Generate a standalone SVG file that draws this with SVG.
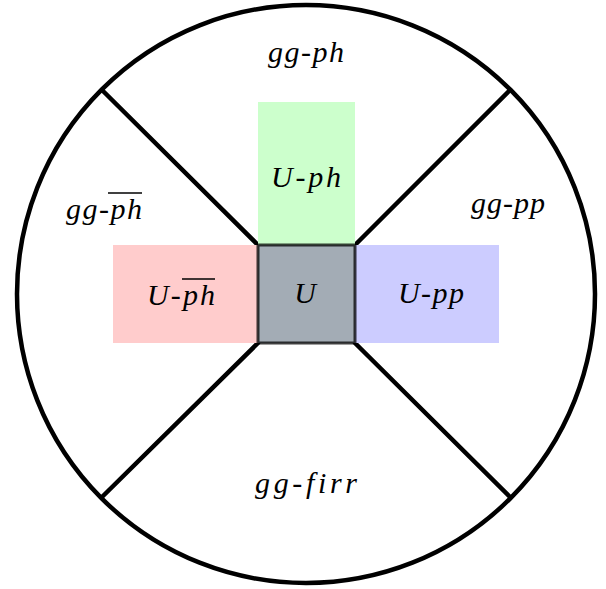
<svg xmlns="http://www.w3.org/2000/svg" width="606" height="589" viewBox="0 0 606 589">
<defs>
<style>
.ln{stroke:#000;stroke-width:4.5;fill:none;stroke-linecap:round}
.ov{stroke:#000;stroke-width:1.3}
</style>
</defs>
<rect width="606" height="589" fill="#fff"/>
<g id="outer">
<circle cx="306" cy="294" r="289" class="ln"/>
</g>
<g id="connectors">
<line x1="258" y1="245" x2="102" y2="90" class="ln"/>
<line x1="355" y1="245" x2="510" y2="90" class="ln"/>
<line x1="258" y1="343" x2="102" y2="497" class="ln"/>
<line x1="355" y1="343" x2="510" y2="497" class="ln"/>
</g>
<g font-family="Liberation Serif, serif" font-style="italic" font-size="30" text-anchor="middle" fill="#000" style="font-variant-ligatures:none">
<g id="U-ph">
<rect x="258" y="102" width="97" height="143" fill="#ccffcc"/>
<text x="306" y="187" textLength="70" lengthAdjust="spacing">U-ph</text>
</g>
<g id="U-phbar">
<rect x="113" y="245" width="145" height="98" fill="#ffcccc"/>
<text x="181" y="305" textLength="68" lengthAdjust="spacing">U-ph</text>
<line class="ov" x1="182" y1="279" x2="215" y2="279"/>
</g>
<g id="U-pp">
<rect x="355" y="245" width="144" height="98" fill="#ccccff"/>
<text x="431" y="303" textLength="66" lengthAdjust="spacing">U-pp</text>
</g>
<g id="U">
<rect x="258" y="245" width="97" height="98" fill="#a3acb5" stroke="#000" stroke-opacity="0.75" stroke-width="3"/>
<text x="305" y="303">U</text>
</g>
<g id="gg-ph">
<text x="306" y="62" textLength="76" lengthAdjust="spacing">gg-ph</text>
</g>
<g id="gg-phbar">
<text x="104" y="219" textLength="76" lengthAdjust="spacing">gg-ph</text>
<line class="ov" x1="108" y1="193" x2="142" y2="193"/>
</g>
<g id="gg-pp">
<text x="508" y="213" textLength="74" lengthAdjust="spacing">gg-pp</text>
</g>
<g id="gg-firr">
<text x="306" y="493" textLength="102" lengthAdjust="spacing">gg-firr</text>
</g>
</g>
</svg>
